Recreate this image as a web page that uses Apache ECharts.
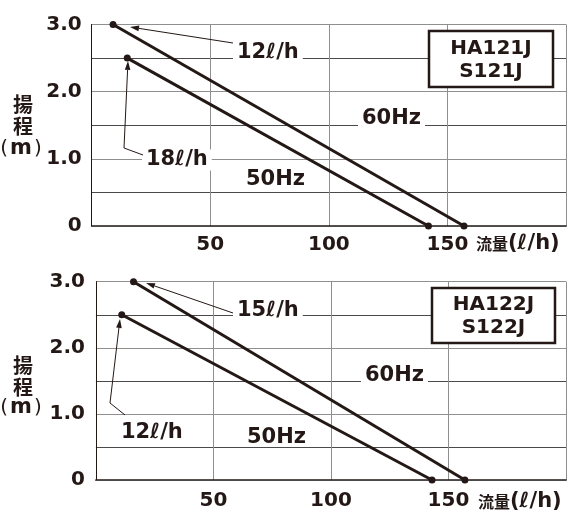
<!DOCTYPE html>
<html><head><meta charset="utf-8">
<script src="https://cdn.jsdelivr.net/npm/echarts@6/dist/echarts.min.js"></script>
<style>html,body{margin:0;padding:0;background:#fff}#c{width:569px;height:511px}</style>
</head><body><div id="c"></div>
<script>
// ---- data ----
const flowTickValues = [50, 100, 150];
const headTickLabels = ['0', '1.0', '2.0', '3.0'];
const top60Flow = [9, 157],  top60Head = [3.0, 0];
const top50Flow = [15, 142], top50Head = [2.5, 0];
const bot60Flow = [16, 157], bot60Head = [3.0, 0];
const bot50Flow = [11, 143], bot50Head = [2.5, 0];
const topModels = ['HA121J', 'S121J'];
const botModels = ['HA122J', 'S122J'];
const topRates = ['12ℓ/h', '18ℓ/h'];
const botRates = ['15ℓ/h', '12ℓ/h'];
const freqLabels = ['60Hz', '50Hz'];
const yName = ['揚', '程', 'm'];
const xName = ['流量', '(ℓ/h)'];

const INK = '#231815';
const FONT = 'DejaVu Sans';
const CJK = 'Noto Sans CJK JP';

function pairs(xs, ys) { return xs.map((x, i) => [x, ys[i]]); }

function xAxisCfg(gi, margin) {
  return {
    type: 'value', gridIndex: gi, min: 0, max: 200, interval: 50,
    axisLine: { show: true, onZero: false, lineStyle: { color: INK, width: 1.5 } },
    axisTick: { show: false },
    splitLine: { show: true, lineStyle: { color: '#8f8f8f', width: 1 } },
    axisLabel: {
      margin: margin, color: INK, fontFamily: FONT, fontWeight: 'bold', fontSize: 20,
      formatter: v => flowTickValues.indexOf(v) >= 0 ? String(v) : ''
    }
  };
}
function topEdge(gi) {
  return {
    type: 'value', gridIndex: gi, position: 'top', min: 0, max: 200,
    axisLine: { show: true, lineStyle: { color: '#4a4a4a', width: 1 } },
    axisTick: { show: false }, axisLabel: { show: false }, splitLine: { show: false }
  };
}
function yAxisCfg(gi, margin) {
  return {
    type: 'value', gridIndex: gi, min: 0, max: 3, interval: 1,
    axisLine: { show: true, lineStyle: { color: INK, width: 1 } },
    axisTick: { show: false },
    minorTick: { show: false, splitNumber: 2 },
    splitLine: { show: true, lineStyle: { color: '#8f8f8f', width: 1 } },
    minorSplitLine: { show: true, lineStyle: { color: '#4a4a4a', width: 1 } },
    axisLabel: {
      margin: margin, color: INK, fontFamily: FONT, fontWeight: 'bold', fontSize: 20,
      formatter: v => headTickLabels[Math.round(v)]
    }
  };
}
function lineSeries(xi, data) {
  return {
    type: 'line', xAxisIndex: xi, yAxisIndex: xi, data: data,
    symbol: 'circle', symbolSize: 7, showSymbol: true,
    itemStyle: { color: INK }, lineStyle: { color: INK, width: 3 },
    silent: true, animation: false, z: 5
  };
}

function arrow(pts) {
  const n = pts.length;
  const [x1, y1] = pts[n - 2], [x2, y2] = pts[n - 1];
  const dx = x2 - x1, dy = y2 - y1, L = Math.hypot(dx, dy);
  const ux = dx / L, uy = dy / L, len = 9, hw = 2.8;
  const bx = x2 - ux * len, by = y2 - uy * len;
  return [
    { type: 'polyline', z: 50, shape: { points: pts.slice(0, n - 1).concat([[bx, by]]) },
      style: { stroke: INK, lineWidth: 1, fill: null } },
    { type: 'polygon', z: 50, shape: { points: [[x2, y2], [bx - uy * hw, by + ux * hw], [bx + uy * hw, by - ux * hw]] },
      style: { fill: INK } }
  ];
}
function label(text, x, y, size, bg) {
  return { type: 'text', z: 40, x: x, y: y,
    style: { text: text, font: 'bold ' + (size || 21) + 'px "' + FONT + '"', fill: INK,
      align: 'left', verticalAlign: 'middle',
      backgroundColor: bg ? '#fff' : null, padding: bg ? [0, 4, 0, 4] : 0 } };
}
function box(lines, x, y, w, h) {
  return [
    { type: 'rect', z: 40, shape: { x: x, y: y, width: w, height: h },
      style: { fill: '#fff', stroke: INK, lineWidth: 2.5 } },
    { type: 'text', z: 41, x: x + w / 2, y: y + h * 0.31,
      style: { text: lines[0], font: 'bold 20px "' + FONT + '"', fill: INK, align: 'center', verticalAlign: 'middle' } },
    { type: 'text', z: 41, x: x + w / 2, y: y + h * 0.72,
      style: { text: lines[1], font: 'bold 20px "' + FONT + '"', fill: INK, align: 'center', verticalAlign: 'middle' } }
  ];
}
function yTitle(cx, y1, y2, y3) {
  return [
    { type: 'text', z: 40, x: cx + 2, y: y1, style: { text: yName[0], font: 'bold 20px "' + CJK + '"', fill: INK, align: 'center', verticalAlign: 'middle' } },
    { type: 'text', z: 40, x: cx + 2, y: y2, style: { text: yName[1], font: 'bold 20px "' + CJK + '"', fill: INK, align: 'center', verticalAlign: 'middle' } },
    { type: 'text', z: 40, x: cx, y: y3, style: {
      text: '{p|(}{m|' + yName[2] + '}{p|)}', align: 'center', verticalAlign: 'middle',
      rich: { p: { fontFamily: FONT, fontSize: 20, fill: INK, padding: [0, 2, 0, 2] },
              m: { fontFamily: FONT, fontWeight: 'bold', fontSize: 21, fill: INK } } } }
  ];
}
function xTitle(x, y) {
  return { type: 'text', z: 40, x: x, y: y, style: {
    text: '{a|' + xName[0] + '}{b|' + xName[1] + '}', align: 'left', verticalAlign: 'middle',
    rich: { a: { fontFamily: CJK, fontWeight: 'bold', fontSize: 16, fill: INK },
            b: { fontFamily: FONT, fontWeight: 'bold', fontSize: 21, fill: INK } } } };
}

const chart = echarts.init(document.getElementById('c'), null, { renderer: 'canvas' });
chart.setOption({
  animation: false,
  backgroundColor: '#fff',
  grid: [
    { left: 91.7, top: 24.5, width: 477.2, height: 201.5 },
    { left: 95.9, top: 281.7, width: 476.6, height: 201.6 }
  ],
  xAxis: [xAxisCfg(0, 9), xAxisCfg(1, 11), topEdge(0), topEdge(1)],
  yAxis: [yAxisCfg(0, 10), yAxisCfg(1, 11)],
  series: [
    lineSeries(0, pairs(top60Flow, top60Head)),
    lineSeries(0, pairs(top50Flow, top50Head)),
    lineSeries(1, pairs(bot60Flow, bot60Head)),
    lineSeries(1, pairs(bot50Flow, bot50Head))
  ],
  graphic: [].concat(
    arrow([[233, 43], [130, 27]]),
    [label(topRates[0], 233, 53, 21, true)],
    arrow([[143, 155], [124, 148], [128, 61]]),
    [label(topRates[1], 142, 160, 21, true)],
    [label(freqLabels[0], 358, 119, 21, true)],
    [label(freqLabels[1], 246, 180, 21, false)],
    box(topModels, 429, 31, 124, 56),
    yTitle(21, 104, 126, 149),
    [xTitle(476, 244)],
    arrow([[233, 313], [146, 283]]),
    [label(botRates[0], 233, 311, 21, true)],
    arrow([[125, 415], [110, 403], [120, 319]]),
    [label(botRates[1], 121, 433, 21, false)],
    [label(freqLabels[0], 361, 376, 21, true)],
    [label(freqLabels[1], 247, 438, 21, false)],
    box(botModels, 432, 288, 123, 55),
    yTitle(21, 365, 387, 408),
    [xTitle(478, 502)]
  )
});
</script>
</body></html>
